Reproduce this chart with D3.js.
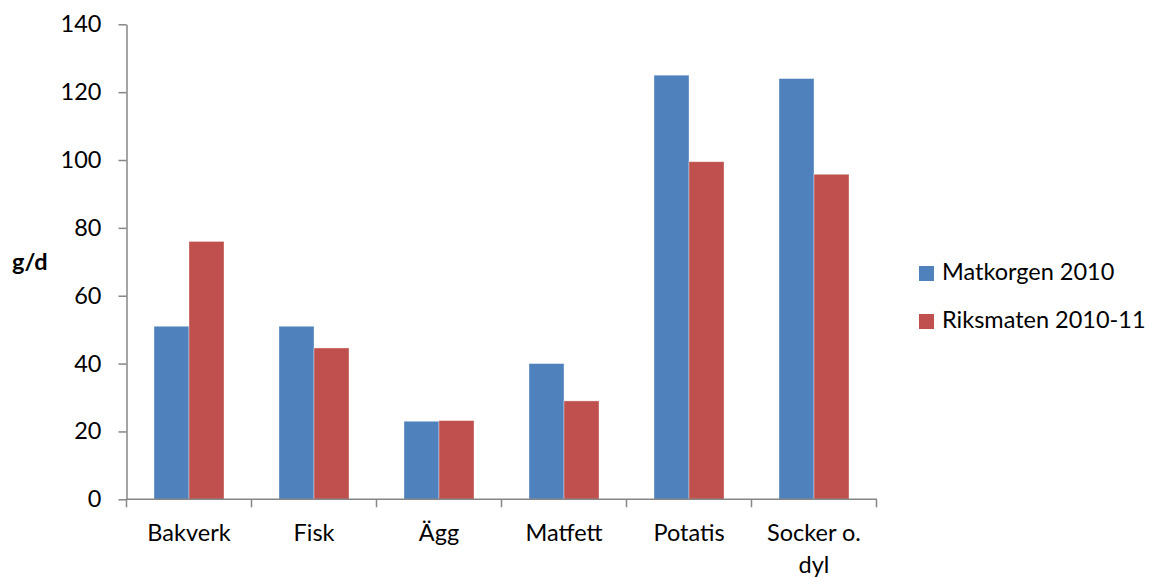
<!DOCTYPE html>
<html>
<head>
<meta charset="utf-8">
<script src="https://cdn.jsdelivr.net/npm/d3@7"></script>
<style>
  html, body { margin: 0; padding: 0; background: #fff; }
  svg { display: block; }
  text { font-family: Lato, "Open Sans", sans-serif; fill: #000; }
</style>
</head>
<body>
<svg id="chart" width="1150" height="578"></svg>
<script>
// Food groups (grams per day), two surveys
const categories = ["Bakverk", "Fisk", "Ägg", "Matfett", "Potatis", "Socker o. dyl"];
const seriesNames = ["Matkorgen 2010", "Riksmaten 2010-11"];
const matkorgen = [51, 51, 23, 40, 125, 124];
const riksmaten = [76, 44.6, 23.2, 29, 99.5, 95.8];
const yTicks = [0, 20, 40, 60, 80, 100, 120, 140];
const colors = ["#4F81BD", "#C0504D"];

const seriesValues = [matkorgen, riksmaten];
const rows = categories.map((c, i) => ({
  category: c,
  values: seriesValues.map((vals, s) => ({ series: seriesNames[s], value: vals[i] }))
}));

const svg = d3.select("#chart");
const plotLeft = 126.5, plotRight = 876.5, plotTop = 24.3, plotBottom = 499.3;
const axisColor = "#868686";
const fontSize = 23.5;

const y = d3.scaleLinear().domain([0, 140]).range([plotBottom, plotTop]);
const x0 = d3.scaleBand().domain(categories).range([plotLeft, plotRight])
  .paddingInner(0.44).paddingOuter(0.22);
const x1 = d3.scaleBand().domain(seriesNames).range([0, x0.bandwidth()]);
const color = d3.scaleOrdinal().domain(seriesNames).range(colors);

// Bars
svg.append("g").selectAll("g")
  .data(rows)
  .join("g")
  .attr("transform", d => `translate(${x0(d.category)},0)`)
  .selectAll("rect")
  .data(d => d.values)
  .join("rect")
  .attr("x", d => x1(d.series))
  .attr("y", d => y(d.value))
  .attr("width", x1.bandwidth())
  .attr("height", d => y(0) - y(d.value))
  .attr("fill", d => color(d.series))
  .attr("stroke", "rgba(255,255,255,0.45)")
  .attr("stroke-width", 0.8);

// Y axis
const yAxis = svg.append("g")
  .attr("transform", `translate(${plotLeft},0)`)
  .call(d3.axisLeft(y).tickValues(yTicks).tickSize(8).tickPadding(17).tickSizeOuter(0));
yAxis.select(".domain").attr("stroke", axisColor).attr("stroke-width", 1.5);
yAxis.selectAll(".tick line").attr("stroke", axisColor).attr("stroke-width", 1.5);
yAxis.selectAll(".tick text").attr("font-size", fontSize).attr("font-family", "Lato, sans-serif").attr("fill", "#000");

// X axis: boundary ticks between categories
const boundaries = d3.range(categories.length + 1).map(i => plotLeft + i * x0.step());
const xAxisG = svg.append("g");
xAxisG.append("line")
  .attr("x1", plotLeft).attr("x2", plotRight + 0.5)
  .attr("y1", plotBottom).attr("y2", plotBottom)
  .attr("stroke", axisColor).attr("stroke-width", 1.5);
xAxisG.selectAll("line.tick")
  .data(boundaries)
  .join("line")
  .attr("class", "tick")
  .attr("x1", d => d).attr("x2", d => d)
  .attr("y1", plotBottom).attr("y2", plotBottom + 8)
  .attr("stroke", axisColor).attr("stroke-width", 1.5);

// Category labels (wrap multi-word label onto two lines)
const labelLines = { "Socker o. dyl": ["Socker o.", "dyl"] };
xAxisG.selectAll("text.cat")
  .data(categories)
  .join("text")
  .attr("class", "cat")
  .attr("text-anchor", "middle")
  .attr("font-size", fontSize)
  .attr("x", d => x0(d) + x0.bandwidth() / 2)
  .attr("y", 541)
  .each(function(d) {
    const lines = labelLines[d] || [d];
    const t = d3.select(this);
    lines.forEach((ln, i) => {
      t.append("tspan")
        .attr("x", x0(d) + x0.bandwidth() / 2)
        .attr("dy", i === 0 ? 0 : 32)
        .text(ln);
    });
  });

// Y axis title
svg.append("text")
  .attr("x", 12).attr("y", 270)
  .attr("font-size", fontSize)
  .attr("font-weight", "bold")
  .text("g/d");

// Legend
const legend = svg.append("g").attr("transform", "translate(919,266)");
const items = legend.selectAll("g")
  .data(seriesNames)
  .join("g")
  .attr("transform", (d, i) => `translate(0,${i * 48})`);
items.append("rect")
  .attr("width", 15).attr("height", 15)
  .attr("fill", d => color(d));
items.append("text")
  .attr("x", 23).attr("y", 14)
  .attr("font-size", fontSize)
  .text(d => d);
</script>
</body>
</html>
